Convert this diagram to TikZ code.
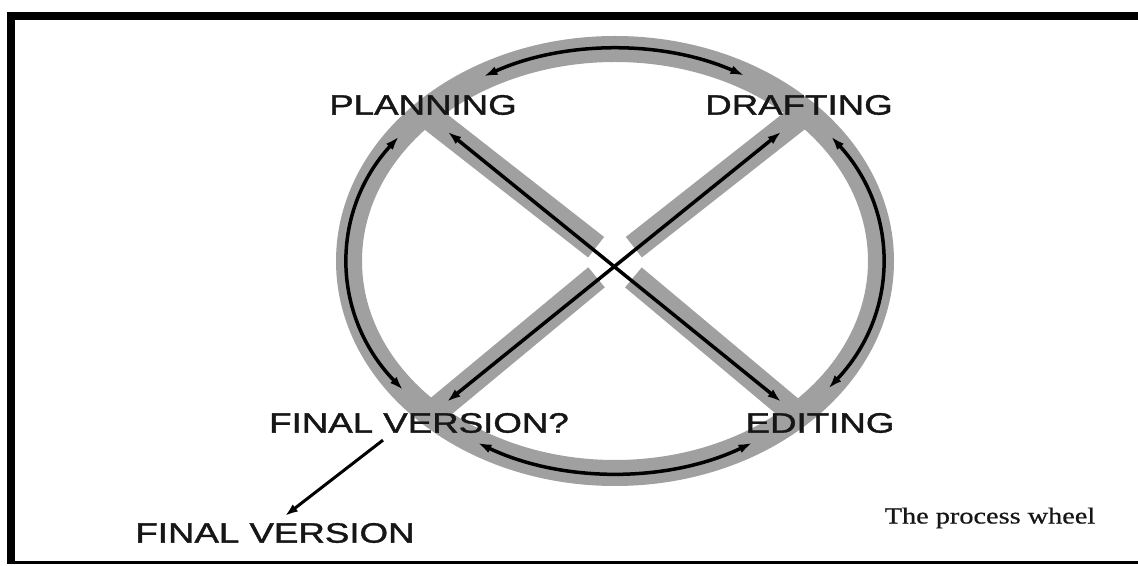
\documentclass[tikz,border=0pt]{standalone}
\usepackage{fontspec}
\usepackage{graphicx}
\setmainfont{Liberation Sans}
\newfontfamily\labfont[FakeBold=1.2]{Liberation Sans}
\newfontfamily\capfont[FakeBold=0.6]{Liberation Serif}
\usetikzlibrary{arrows.meta,calc}
\definecolor{bandgray}{RGB}{160,160,160}
\definecolor{txt}{RGB}{22,22,22}
\begin{document}
\begin{tikzpicture}[x=1pt,y=1pt,
  band/.style={line width=26pt, draw=bandgray, line cap=butt},
  arr/.style={line width=3.5pt, draw=black, {Latex[length=14pt,width=9pt]}-{Latex[length=14pt,width=9pt]}},
  lab/.style={font=\labfont\fontsize{28}{28}\selectfont, text=txt, inner sep=0pt},
  capstyle/.style={font=\capfont\fontsize{23}{23}\selectfont, text=txt, inner sep=0pt},
]
\useasboundingbox (0,0) rectangle (1138,565);
\fill[white] (0,0) rectangle (1138,565);
% frame
\fill[black] (7,1) rectangle (15,553);
\fill[black] (7,545) rectangle (1138,553);
\fill[black] (7,1) rectangle (1138,4);

\coordinate (c) at (615,304);
\coordinate (X) at (615,303);
\coordinate (PL) at (427,450);
\coordinate (DR) at (802,450);
\coordinate (FV) at (428,148);
\coordinate (ED) at (800,148);

% grey bands
\draw[band] (c) ellipse[x radius=266, y radius=212];
\draw[band] (PL) -- ($(X)!24pt!(PL)$);
\draw[band] (ED) -- ($(X)!24pt!(ED)$);
\draw[band] (DR) -- ($(X)!24pt!(DR)$);
\draw[band] (FV) -- ($(X)!24pt!(FV)$);

% black arrows on the rim
\draw[arr] ($(c)+(119.5:267 and 212)$) arc[start angle=119.5, end angle=61, x radius=267, y radius=212];
\draw[arr] ($(c)+(144:267 and 212)$) arc[start angle=144, end angle=217.5, x radius=267, y radius=212];
\draw[arr] ($(c)+(239:267 and 212)$) arc[start angle=239, end angle=301, x radius=267, y radius=212];
\draw[arr] ($(c)+(323:267 and 212)$) arc[start angle=323, end angle=396, x radius=267, y radius=212];

% diagonals
\draw[arr] ($(PL)!0.055!(ED)$) -- ($(PL)!0.95!(ED)$);
\draw[arr] ($(DR)!0.055!(FV)$) -- ($(DR)!0.95!(FV)$);

% labels
\node[lab] (planning) at (423,460) {\scalebox{1.31}[1]{PLANNING}};
\node[lab] (drafting) at (799,460) {\scalebox{1.31}[1]{DRAFTING}};
\node[lab] (fvq) at (419,142) {\scalebox{1.31}[1]{FINAL VERSION?}};
\node[lab] (editing) at (820,142) {\scalebox{1.31}[1]{EDITING}};
\node[lab] (fv) at (275,32) {\scalebox{1.31}[1]{FINAL VERSION}};
\node[capstyle] (cap) at (990,47) {\scalebox{1.23}[1]{The process wheel}};

\draw[line width=3pt, -{Latex[length=13pt,width=9pt]}] ($(fvq.south)+(-36,-7)$) -- ($(fv.north)+(10,7)$);
\end{tikzpicture}
\end{document}
